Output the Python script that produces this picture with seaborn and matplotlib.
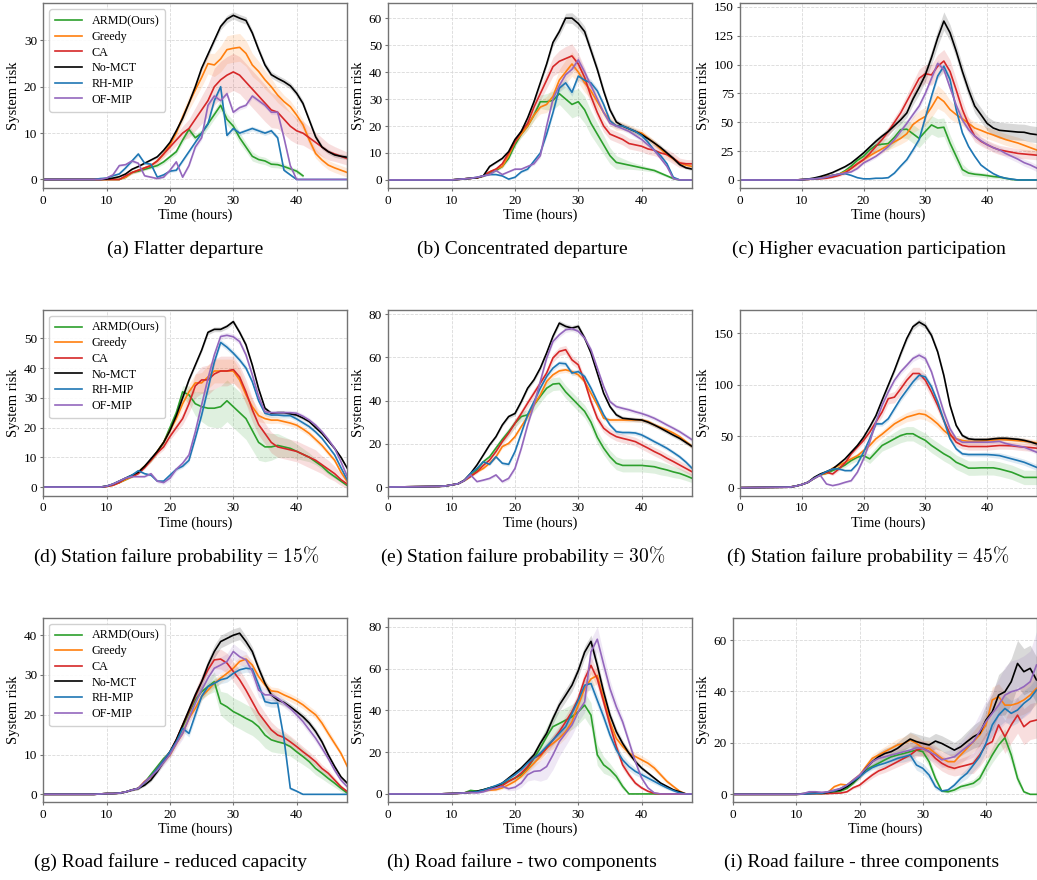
import numpy as np
import pandas as pd
import matplotlib
matplotlib.use("Agg")
import matplotlib.pyplot as plt
from matplotlib.ticker import MultipleLocator
import seaborn as sns

nan = float("nan")

# ---------------- data ----------------
HOURS = [0, 8, 9, 10, 11, 12, 13, 14, 15, 16, 17, 18, 19, 20, 21, 22, 23, 24, 25, 26, 27, 28, 29,
         30, 31, 32, 33, 34, 35, 36, 37, 38, 39, 40, 41, 42, 43, 44, 45, 46, 47, 48]
METHODS = ["ARMD(Ours)", "Greedy", "CA", "No-MCT", "RH-MIP", "OF-MIP"]

# (a) Flatter departure
A_ARMD = [0,0,0, 0,0,0,0.5,1.5,1.8,2.2,2.6,3,3.8, 4.9,6,8.5,10.8,9,10,12,14,16,13, 11.5,9,7,5,4.3,4,3.3,3.2,2.8,2.3, 1.8,0.8,nan,nan,nan,nan,nan,nan,nan]
A_GREEDY = [0,0,0, 0,0,0,0.5,1.5,2,2.5,3,4,5.5, 7.5,10,13.5,16.5,19.3,22,25,24.7,26,28, 28.3,28.5,27.2,24.7,23.3,21.5,20,18.2,16.8,15.7, 13.9,11.8,8.5,5.6,4.2,3.1,2.5,2,1.5]
A_CA = [0,0,0, 0,0,0,0.8,1.5,2,2.5,3,4,5.5, 7,8.5,10,11,13,15,17,20,21.5,22.5, 23.2,22.5,21,19.5,18,16.5,15,14.5,13,11.5, 10.5,10,9,8,7,6,5.5,5,4.5]
A_NOMCT = [0,0,0, 0.1,0.3,0.6,1.2,2.2,2.8,3.5,4.2,4.9,6.3, 8,10.5,13.2,16.5,20,24,27,30,33,34.6, 35.4,34.8,34.3,31.6,28,24.7,22.6,21.8,21.1,20.2, 18.6,16.4,12.8,9.2,7,6,5.3,5,4.8]
A_RH = [0,0,0.2, 0.3,0.8,1.2,2.5,4,5.5,3.5,3.3,0.5,1, 1.8,2,4,6,8,10,12,17,20,9.5, 11,10,10.5,11,10.5,10,10.5,9,2,1, 0,0,0,0,0,0,0,0,0]
A_OF = [0,0,0, 0.3,1,3,3.2,4,3.5,0.8,0.5,0.2,0.5, 2,3.8,0.5,3,7,9,16,18,17,18.5, 14.5,15.5,16,18,17,16,14.5,14.5,9,3, 0,0,0,0,0,0,0,0,0]
A_ARMD_SD = [0,0,0, 0,0,0,0.2,0.3,0.3,0.3,0.3,0.4,0.5, 0.5,0.6,0.7,0.8,0.8,0.8,1,1,1.2,1.2, 1.2,1.2,1,1,0.8,0.8,0.7,0.7,0.6,0.5, 0.5,0.4,0,0,0,0,0,0,0]
A_GREEDY_SD = [0,0,0, 0,0,0,0.2,0.3,0.3,0.4,0.4,0.5,0.6, 0.8,1,1.2,1.5,1.8,2,2.2,2.5,2.8,3, 3,3,2.8,2.5,2.2,2,1.8,1.6,1.4,1.3, 1.2,1.1,1,1,1,1,1,1,1]
A_CA_SD = [0,0,0, 0,0,0,0.2,0.3,0.4,0.4,0.5,0.6,0.8, 1,1.2,1.5,2,2.5,3,3.5,4,4,4, 4,4,4,4,4,4,3.8,3.5,3.2,3, 2.8,2.6,2.4,2.2,2,1.8,1.6,1.5,1.4]
A_NOMCT_SD = [0,0,0, 0,0,0.1,0.1,0.2,0.2,0.2,0.2,0.3,0.3, 0.3,0.3,0.4,0.4,0.5,0.5,0.6,0.6,0.7,0.8, 0.8,0.8,0.8,0.7,0.7,0.7,0.7,0.7,0.7,0.7, 0.7,0.7,0.6,0.6,0.5,0.5,0.5,0.5,0.5]
A_RH_SD = [0,0,0, 0.1,0.2,0.2,0.3,0.4,0.4,0.3,0.3,0.2,0.2, 0.3,0.3,0.4,0.4,0.5,0.5,0.5,0.6,0.6,0.5, 0.5,0.5,0.5,0.5,0.5,0.5,0.5,0.5,0.3,0.2, 0,0,0,0,0,0,0,0,0]
A_OF_SD = [0,0,0, 0.1,0.2,0.3,0.3,0.4,0.3,0.2,0.2,0.1,0.2, 0.3,0.4,0.2,0.4,0.5,0.5,0.6,0.6,0.6,0.6, 0.5,0.5,0.5,0.5,0.5,0.5,0.5,0.5,0.4,0.2, 0,0,0,0,0,0,0,0,0]

# (b) Concentrated departure
B_ARMD = [0,0,0, 0,0.2,0.4,0.6,0.8,1.5,2.5,3.5,5,8, 13,17,20,24,29,29,29.5,32,30,28, 29,26,21,17,13,9,6.5,6,5.5,5, 4.5,4,3.5,2.5,1.5,0.5,0,0,0]
B_GREEDY = [0,0,0, 0,0.2,0.4,0.6,0.8,1.5,3,4,5,9, 14,17,20,24,27,28,31,37,40,43, 40,36,33,29,25,22,20,20,19,18, 17.4,15.5,13.7,11.5,9.4,7.8,6.3,5.5,5]
B_CA = [0,0,0, 0,0.2,0.4,0.6,0.8,1.5,3,4,6,10, 14,18,21,27,32,37,42,44,45,46, 43,38,31,25,20,17,16,15,13.5,13, 12.5,11.5,11,10,9.4,8,6.3,6,6]
B_NOMCT = [0,0,0, 0,0.2,0.4,0.6,0.8,1.5,5,6.5,8,10.5, 15,18,23,29,36,43,51,55,60,60, 58,55,48,41,33,26,21.5,20,19,18, 16.8,15.3,13.7,12,10,8,5.7,4.5,4]
B_RH = [0,0,0, 0,0.2,0.4,0.6,1,1.5,2,2,1.5,0.3, 1,3,4,7,10,17,25,34,36,32.5, 38.5,37,36,33,28,22,20,20,19,18, 16.5,14,11,9,6,1,0,0,0]
B_OF = [0,0,0, 0,0.2,0.4,0.6,1,1.5,2,3.5,2,3, 4,4,5,6,9,20,30,35,39,41, 44.5,40,35,30,25,21,20,19,18,16.5, 15,13,11,8,5,0.5,0,0,0]
B_ARMD_SD = [0,0,0, 0,0,0,0.1,0.2,0.3,0.4,0.5,0.6,0.8, 1,1.2,1.5,2,2.5,3,3.5,4,4.5,5, 5,5,4.5,4,3.5,3,2.5,2,1.5,1.2, 1,0.8,0.7,0.6,0.5,0.4,0,0,0]
B_GREEDY_SD = [0,0,0, 0,0,0,0.1,0.2,0.3,0.4,0.5,0.6,0.8, 1,1.2,1.5,2,2.5,3,3.5,4,4.5,4.5, 4,3.5,3,2.5,2,1.8,1.6,1.5,1.5,1.4, 1.3,1.2,1.1,1,1,1,1,1,1]
B_CA_SD = [0,0,0, 0,0,0,0.1,0.2,0.3,0.4,0.5,0.6,0.8, 1,1.2,1.5,2,2.5,3,3.5,4,4.5,4.5, 4,3.5,3,2.5,2.2,2,2,2,2,2, 2,2,2,2,2,2,1.8,1.6,1.5]
B_NOMCT_SD = [0,0,0, 0,0,0,0.1,0.2,0.3,0.4,0.4,0.5,0.5, 0.6,0.7,0.8,0.9,1,1.2,1.4,1.6,1.8,2, 2,2,1.8,1.6,1.4,1.2,1,1,1,1, 1,1,1,1,0.8,0.8,0.6,0.5,0.5]
B_RH_SD = [0,0,0, 0,0,0,0.1,0.2,0.2,0.3,0.3,0.3,0.2, 0.3,0.4,0.5,0.6,0.8,1,1.2,1.4,1.5,1.5, 1.5,1.4,1.3,1.2,1,1,0.8,0.8,0.8,0.8, 0.8,0.7,0.6,0.5,0.4,0.2,0,0,0]
B_OF_SD = [0,0,0, 0,0,0,0.1,0.2,0.2,0.3,0.3,0.3,0.2, 0.3,0.4,0.5,0.6,0.8,1,1.2,1.4,1.5,1.5, 1.5,1.4,1.3,1.2,1,1,0.8,0.8,0.8,0.8, 0.8,0.7,0.6,0.5,0.4,0.2,0,0,0]

# (c) Higher evacuation participation
C_ARMD = [0,0,0, 0.3,0.6,1,1.5,3,4,5,8,12,17, 20.5,26,30,31,31.5,37,43.6,44,40,36, 42,47.7,45,45.7,32,20.5,9,6,5,4.5, 3.8,3,2.5,1.5,0.5,0,0,0,0]
C_GREEDY = [0,0,0, 0.3,0.6,1,2,3,4,5,7,10,14, 17.6,21,24,27,30,33,36,40,48,52, 55,63,72,68,61,56.6,53,49,45,43, 40.8,39,37,35,33.5,32,30,28,26]
C_CA = [0,0,0, 0.3,0.5,0.8,1,1.5,2.5,4,6,10,14, 17.6,23,29,35,42,50,58,68,78,88, 92,91,98.5,103,94,78,61,48,38,33.5, 30.6,28,26,25,24,23,22.5,22,21.5]
C_NOMCT = [0,0,0, 0.3,0.8,1.7,3,4.6,6.5,9,11.5,14.7,19, 23.4,28.5,33.5,38,42,47,52,58,70,80, 91,106,123,137.6,127.5,111.6,94,78,64,56.6, 49,45,43,42.5,42,41.5,41.3,40,39.3]
C_RH = [0,0,0, 0.3,0.6,1,1.5,2.5,4,5,5.5,4,2, 1,1,1.5,1.5,2,6,12,17.6,26,35, 54,72.5,90,98.5,87,61,40.8,29,20.5,13, 9,5.5,3,1.5,0.8,0,0,0,0]
C_OF = [0,0,0, 0.3,0.6,1,1.5,2.5,4,5,6,7,10, 14.7,17.5,20.5,24.5,29,35,42,49,56.6,64, 75,88,101,95.6,80,65,52,43.6,38,34, 30.6,28,26,23,20.5,18,15,13,10.4]
C_ARMD_SD = [0,0,0, 0,0,0,0.2,0.5,0.8,1,1.5,2,2.5, 3,4,5,5,5,6,7,8,8,8, 8,8,8,8,7,6,5,3,2,2, 2,1.5,1.5,1,0.5,0,0,0,0]
C_GREEDY_SD = [0,0,0, 0,0,0,0.2,0.5,0.8,1,1.5,2,2.5, 3,3,3,3.5,4,4.5,5,6,7,8, 8,9,10,9,8,7,6,5,5,5, 5,5,5,5,5,5,5,5,5]
C_CA_SD = [0,0,0, 0,0,0,0.2,0.5,0.8,1,1.5,2,2.5, 3,3,3,3.5,4,4.5,5,6,7,8, 8,9,10,10,10,9,8,6,5,4, 4,4,4,4,4,4,4,4,4]
C_NOMCT_SD = [0,0,0, 0,0,0,0.2,0.4,0.6,0.8,1,1.2,1.5, 2,2,2.5,2.5,3,3,3.5,4,5,6, 6,6,7,8,7,6,6,6,6,6, 6,6.5,7,7,7,7,7,7,7]
C_RH_SD = [0,0,0, 0,0,0,0.2,0.3,0.4,0.5,0.5,0.4,0.3, 0.2,0.2,0.3,0.3,0.4,0.8,1.2,1.5,2,2.5, 3,3,3,3,3,2.5,2,1.5,1.2,1, 0.8,0.6,0.4,0.2,0.1,0,0,0,0]
C_OF_SD = [0,0,0, 0,0,0,0.2,0.3,0.4,0.5,0.6,0.7,1, 1.2,1.5,1.5,1.8,2,2.5,3,3,3,3, 3,3,3,3,3,3,3,3,3,3, 3,3,3,3,3,3,3,3,3]

# (d) Station failure probability = 15%
D_ARMD = [0,0,0, 0.3,0.8,1.5,2.5,3.5,5,7,9,12,15, 20,25,32,31,28,27,26.5,26.5,27,29, 27,25,23,19,15,13.5,13.5,14,13.5,13, 12,11,10,8.5,7,5,3.5,2,0.5]
D_GREEDY = [0,0,0, 0.2,0.6,1.5,2.5,3.5,5,7,9,12,15, 19,23,28,32,35,35,37,39,39,39, 39,36,31,27,24,23,22.5,22.5,22,21.5, 20.8,19.5,18,16,14,11.5,9,5,1.8]
D_CA = [0,0,0, 0.2,0.6,1.5,3,3.5,4.5,6.5,9,11.5,13.5, 17,20,23,28,34,36,36,38,39,39, 39.5,37,32,26,21,18,15,13.5,13,12.5, 12,11,10,9,7.5,6,4.5,2.5,1]
D_NOMCT = [0,0,0, 0.3,1,2,3,4,5,7,9.5,12,15, 19,24,30,36,41,46,52,53,53,54, 55.6,52,47.8,41,33,26.5,24.8,25,25,24.6, 24.2,23.2,22,20,18,15.5,13,10,6.3]
D_RH = [0,0,0, 0.3,1,2,3,4,5.5,4.5,4,2,2, 4,6,7,9,16.4,24.2,33,42,48.6,47, 45,42.7,40,35.4,29,24.8,24.2,24.2,24,24, 22.9,21.6,20.3,18.5,16.4,13.6,10.8,6.5,2.4]
D_OF = [0,0,0, 0.3,1,2,3,3.5,3.5,3.5,4.5,2,1.5, 3,6,8,10.8,18.6,27.6,36.5,44.4,50.6,51, 50.5,48.9,44.4,37.7,30.4,25.3,25,25,25,25, 24.8,23.8,22.5,20.8,18.6,16,13,8.5,3.5]
D_ARMD_SD = [0,0,0, 0,0,0.1,0.2,0.3,0.4,0.5,0.6,0.8,1, 1.2,1.5,2,3,4,5,6,6.5,7,7, 7,7,7,6.5,6,5,4.5,4,3.5,3, 2.5,2,1.5,1,1,0.8,0.6,0.4,0.2]
D_GREEDY_SD = [0,0,0, 0,0,0.1,0.2,0.3,0.4,0.5,0.6,0.8,1, 1.2,1.5,2,2.5,3,3.5,4,4,4,4, 4,3.5,3,2.5,2,1.5,1.2,1,1,1, 1,1,1,1,1,1,0.8,0.6,0.4]
D_CA_SD = [0,0,0, 0,0,0.1,0.2,0.3,0.4,0.5,0.6,0.8,1, 1.2,1.5,2,3,4,4.5,5,5,5,5, 4.5,4,4,4,3.5,3.5,3.5,3.5,3.5,3.5, 3.5,3.5,3.5,3.5,3,3,2.5,2,1.5]
D_NOMCT_SD = [0,0,0, 0,0,0.1,0.1,0.2,0.2,0.3,0.3,0.4,0.4, 0.5,0.5,0.6,0.6,0.7,0.7,0.8,0.8,0.8,0.8, 0.8,0.8,0.8,0.7,0.7,0.6,0.6,0.6,0.6,0.6, 0.6,0.6,0.6,0.6,0.5,0.5,0.5,0.4,0.4]
D_RH_SD = [0,0,0, 0,0,0.1,0.2,0.3,0.3,0.3,0.3,0.3,0.3, 0.4,0.5,0.6,0.7,0.8,0.9,1,1,1,1, 1,1,1,0.9,0.8,0.8,0.8,0.8,0.8,0.8, 0.8,0.8,0.8,0.7,0.7,0.6,0.6,0.5,0.4]
D_OF_SD = [0,0,0, 0,0,0.1,0.2,0.3,0.3,0.3,0.5,0.6,0.6, 0.8,0.8,0.8,0.8,0.9,1,1,1,1,1, 1,1,1,0.9,0.8,0.8,0.8,0.8,0.8,0.8, 0.8,0.8,0.8,0.7,0.7,0.6,0.6,0.5,0.4]

# (e) Station failure probability = 30%
E_ARMD = [0,0.3,0.5, 1,1.5,3,5,8,11.7,14,18,22,25.6, 29.5,32.6,33.4,38,41.9,45.7,47.6,47.9,44,41, 38,35,30,23,18,14,11,10,10,10, 10,9.7,9.4,8.6,7.9,7,6.3,5.2,4]
E_GREEDY = [0,0.3,0.5, 1,1.5,3,5,7,8.6,11,14,18.7,20.2, 23.3,28,32.6,38,42.6,48.8,51.9,53.7,54.2,53.4, 51.9,48.8,43.4,38,31.8,31,31,31,31,31, 31,30.3,28.7,27.6,26.4,25,23.3,21,18.7]
E_CA = [0,0.3,0.5, 1,1.5,3,5,7,10,12.5,16.4,21,24.9, 29.5,34,38.8,43.4,48,52.7,59.7,62.7,63.5,58.8, 56.5,48.8,39.5,31.8,27.2,24.9,23.3,22.5,21.8,21, 19.5,18,16.4,15,13.3,11.8,10.2,8.6,7]
E_NOMCT = [0,0.3,0.5, 1,1.5,3.2,6.3,10.2,14.8,19.5,23.3,28.7,32.6, 34,39.5,45.7,49.6,55,62,69.7,75.8,74.3,73.5, 74.3,68.9,62,52.7,43.4,37.2,33.4,31.8,31.5,31.2, 31,30,28.7,27.2,25.6,24,22.5,20.6,18.7]
E_RH = [0,0.3,0.5, 1,1.5,3,6.3,8.6,11.7,10.5,14,11,10.5, 16.4,24.9,33.4,39.5,45.7,51.1,55,57.3,57,52.7, 53.4,51.1,45.7,39.5,33.4,28.7,25.6,25.2,25.2,25, 24.1,22.6,21,19.5,17.9,16,14,11.5,8.6]
E_OF = [0,0.3,0.5, 1,1.5,3,5.6,2.5,3.2,4,5.6,2.5,4, 8.6,17.9,28.7,38,48.8,59.6,67.3,70.4,72.7,73.2, 72,68.9,63.5,55,46.5,39.5,37.2,36.4,35.7,34.8, 34,33,31.8,30.3,28.7,27.2,25.6,23.7,21.8]
E_ARMD_SD = [0,0,0, 0,0.2,0.3,0.5,0.8,1,1.2,1.4,1.6,1.8, 2,2.2,2.5,2.8,3,3,3,3,3,3, 3,3,3,3,3,3,3,3,3,3, 3,3,3,3,2.8,2.6,2.4,2.2,2]
E_CA_SD = [0,0,0, 0,0.2,0.3,0.5,0.8,1,1.2,1.4,1.6,1.8, 2,2,2,2,2,2,2,2,2,2, 2,2,2,2,2,2,2,2,2,2, 2,2,2,2,2,2,2,2,2]
E_OTHER_SD = [0,0,0, 0,0.1,0.2,0.3,0.4,0.5,0.6,0.7,0.8,0.9, 1,1,1,1,1.2,1.2,1.2,1.2,1.2,1.2, 1.2,1.2,1.2,1,1,1,1,1,1,1, 1,1,1,1,1,1,1,1,1]

# (f) Station failure probability = 45%
F_ARMD = [0,0.5,1.5, 3,5.2,9,12.5,14,16.6,19,22,26.4,29.6, 31.2,28,34.5,41,44.2,47.5,50.7,52.4,52.4,49, 46,41,37,32.9,29.6,24.7,22,19,19,19.3, 19.3,19.3,18.2,16.6,15,12.5,10,10,10]
F_GREEDY = [0,0.5,1.5, 3,5.2,9,12.5,14,19,21.5,24.7,28,31, 36,41,47.5,52,57,62,65.4,68.6,70.3,72, 71,67,62,55.6,50.7,47.5,45.9,45,45,45.3, 45.9,46.3,46.8,46.5,46.2,45.7,45.2,44.4,43.6]
F_CA = [0,0.5,1.5, 3,5.2,9,12.5,15,13.3,18.2,24,32.9,39.4, 45.9,54,63.8,73.5,86.5,88,96,104.4,111,111, 104.4,93,80,65.4,52.4,44.2,41,40,40,40, 40,40.5,41,40.9,40.7,40,39.4,39,38.4]
F_NOMCT = [0,0.5,1.5, 3,5.2,10,13.3,15.6,18.2,23,28,34.5,41, 49,59,70,85,99.5,114,130,145,156.5,161, 157.5,148,132,109,80,60.5,50.7,47.5,46.8,46.8, 46.8,47.5,48,48,47.5,47,46,44.5,42.6]
F_RH = [0,0.5,1.5, 3,5.2,9,12.5,15.6,18.2,18.2,16.6,16.6,23, 34.5,47.5,62,62,67,76.8,86.5,94.7,102.8,109.3, 107.7,98,83.3,65.4,47.5,37.7,32.9,32.2,32.2,32.2, 32.2,31.8,31.2,29.6,28,26.4,24.7,22.3,19.8]
F_OF = [0,0.5,1.5, 3,5.2,9,12,3.6,2,3.3,5.2,6.8,15, 28,44.2,63.8,80,93,104.4,112.6,119,125.6,128.8, 125.6,112.6,93,73.5,57.3,47.5,44.2,44.2,44.2,44.2, 44.2,44.5,45,43,41.6,40.5,39.4,37,34.5]
F_ARMD_SD = [0,0,0, 0,0,0,0.5,1,1.5,2,2.5,3,3.5, 4,4.5,5,5.5,6,6.5,7,7,7,7, 7,7,7,7,7,7,7,7,7,7, 7,7,7,7,7,7,7,7,7]
F_GREEDY_SD = [0,0,0, 0,0,0,0.5,1,1.5,2,2,2.5,2.5, 3,3,3.5,3.5,4,4,4.5,4.5,5,5, 5,4.5,4,4,3.5,3,3,3,3,3, 3,3,3,3,3,3,3,3,3]
F_CA_SD = [0,0,0, 0,0,0,0.5,1,1.5,2,2,2.5,2.5, 3,3.5,4,4.5,5,5.5,6,6,6,6, 6,6,5.5,5,4.5,4,3.5,3.5,3.5,3.5, 3.5,3.5,3.5,3.5,3.5,3.5,3.5,3.5,3.5]
F_NOMCT_SD = [0,0,0, 0,0,0,0.3,0.5,0.6,0.8,1,1.2,1.4, 1.6,1.8,2,2.2,2.4,2.6,2.8,3,3,3, 3,3,3,3,2.5,2,2,2,2,2, 2,2,2,2,2,2,2,2,2]
F_RH_SD = [0,0,0, 0,0,0,0.3,0.5,0.6,0.8,1,1.2,1.4, 1.6,1.8,2,2.2,2.4,2.6,2.8,3,3,3, 3,3,3,3,2.5,2,2,2,2,2.2, 2.4,2.6,2.8,3,3,3,3,3,3]
F_OF_SD = [0,0,0, 0,0,0,0.3,0.5,0.6,0.8,1,1.2,1.4, 1.6,1.8,2,2.2,2.4,2.6,2.8,3,3,3, 3,3,3,3,2.5,2,2,2,2,2, 2,2,2,2,2,2,2,2,2]

# (g) Road failure - reduced capacity
G_ARMD = [0,0,0.1, 0.2,0.2,0.3,0.6,1.1,1.5,3,5,7,9, 10.5,13.5,17,20.5,23.7,25.8,27.1,28.3,22.9,22, 20.8,20,19.1,18.3,17,14.9,13.7,13.2,12.8,12, 10.7,9.5,8.2,6.5,5.3,4,2.8,1.5,0.3]
G_GREEDY = [0,0,0.1, 0.2,0.2,0.3,0.6,1.1,1.5,3.2,4.4,6.1,8.2, 9.9,12.8,15.3,19.1,21.6,24.6,26.2,27.9,29.2,30.4, 31.7,33.4,34,32.5,29.6,27.5,26,25.8,25,24.3, 23.5,22.5,21.2,20,17.9,15.3,12.8,10.3,7]
G_CA = [0,0,0.1, 0.2,0.2,0.3,0.6,1.1,1.5,3.2,4.4,6.5,8.6, 10.7,13.7,17.4,20.8,24.6,28.3,31.3,33.8,34,33, 30.9,28.8,26.2,23.3,20.4,18.3,16.2,14.9,14.3,13.2, 12,10.7,9.5,8.2,6.5,5.3,3.6,1.9,0.7]
G_NOMCT = [0,0,0.1, 0.2,0.2,0.3,0.6,1.1,1.5,2.3,3.6,5.7,8.2, 10.7,13.7,17.4,21.2,25,28.3,32.5,35.9,38.4,39.2, 40,40.5,38.4,35.9,31.7,27.9,25,23.7,23.1,22, 20.8,19.5,17.9,15.8,13.2,9.9,7,4.4,2.8]
G_RH = [0,0,0.1, 0.2,0.2,0.3,0.6,1.1,1.5,3,4.5,6.5,8.6, 10.7,13.2,16.6,15.3,20,24.6,27.1,27.9,28.8,29.2, 30.4,31.3,31.7,31.5,27.5,23.3,22.9,22.9,14,1.5, 0.8,0,0,0,0,0,0,0,0]
G_OF = [0,0,0.1, 0.2,0.2,0.3,0.6,1.1,1.5,3,4.5,6,8, 10,12.8,15.3,19.1,22.9,26.2,29.2,31.7,32.5,33.4, 35.9,34.6,33.8,30.9,26.2,25,25,24.2,22.9,21.6, 20,18.3,16.2,14.1,11.6,9,6.1,3.6,1.9]
G_ARMD_SD = [0,0,0, 0,0,0,0.1,0.2,0.3,0.4,0.5,0.6,0.7, 0.8,1,1.2,1.4,1.6,1.8,2,2.5,3,3.5, 3.5,3.5,3.5,3.5,3.5,3.2,3,2.8,2.6,2.4, 2.2,2,1.8,1.6,1.4,1.2,1,0.8,0.5]
G_GREEDY_SD = [0,0,0, 0,0,0,0.1,0.2,0.3,0.3,0.4,0.4,0.5, 0.6,0.7,0.8,0.9,1,1,1.1,1.2,1.2,1.2, 1.2,1.2,1.2,1.2,1,1,1,1,1,1, 1,1,1,1,1,1,0.8,0.6,0.5]
G_CA_SD = [0,0,0, 0,0,0,0.1,0.2,0.3,0.3,0.4,0.5,0.6, 0.8,1,1.2,1.4,1.6,1.8,2,2.2,2.5,2.5, 2.5,2.5,2.5,2.5,2.5,2.2,2,1.8,1.6,1.5, 1.4,1.3,1.2,1.1,1,0.9,0.7,0.5,0.3]
G_NOMCT_SD = [0,0,0, 0,0,0,0.1,0.2,0.3,0.3,0.4,0.5,0.6, 0.7,0.8,0.9,1,1.1,1.2,1.4,1.6,1.6,1.6, 1.6,1.6,1.4,1.2,1,1,0.9,0.8,0.8,0.8, 0.8,0.8,0.8,0.8,0.7,0.6,0.5,0.4,0.3]
G_RH_SD = [0,0,0, 0,0,0,0.1,0.2,0.3,0.3,0.4,0.4,0.5, 0.6,0.7,0.8,0.9,1,1,1,1,1,1, 1,1,1,1,1,1,1,1,0.8,0.4, 0.2,0,0,0,0,0,0,0,0]
G_OF_SD = [0,0,0, 0,0,0,0.1,0.2,0.3,0.4,0.5,0.6,0.8, 1,1.2,1.4,1.6,1.8,2,2,2,2,2, 2,2,2,2,1.8,1.6,1.4,1.2,1,1, 1,1,1,1,0.9,0.8,0.7,0.6,0.5]

# (h) Road failure - two components
H_ARMD = [0,0,0.1, 0.2,0.3,0.5,1.7,1.3,2,2.9,3.8,4.8,6.2, 7.6,9.2,12.4,17.1,21.9,27.4,32.2,33.7,35.3,36.9, 39.3,42.5,37.7,18.7,13.9,11.6,8.4,3.6,0,0, 0,0,0,0,0,0,0,0,0]
H_GREEDY = [0,0,0.1, 0.2,0.3,0.5,0.8,1,1.5,1.8,2,2.9,4.4, 6,8.4,11.6,14.7,17.9,21.9,24.2,26.6,29.8,34.5, 42.5,50.4,55,56.7,45.6,34.5,26.6,22.7,19.5,17.9, 16.3,14.7,12.4,9.2,6,3.6,1.3,0,0]
H_CA = [0,0,0.1, 0.2,0.3,0.5,0.8,1,1.5,2.5,3.3,4,6, 7.6,10,13.1,17.1,18.7,21.9,25.8,29.8,34.5,39.3, 45.6,55,61.5,55,44,33,22.7,13.9,9.2,5.2, 2.9,1.3,0.3,0,0,0,0,0,0]
H_NOMCT = [0,0,0.1, 0.2,0.3,0.5,0.8,1.3,2,2.9,3.6,5.2,7.6, 10,12.4,15.5,18.7,24.2,29,36.1,42.5,47.2,52, 59,67.8,73,61.5,48.8,37.7,29.8,24.2,19.5,15.5, 12.4,10,7.6,5.2,3.6,2,1,0,0]
H_RH = [0,0,0.1, 0.2,0.3,0.5,0.8,1,1.8,2.9,4,5.2,7.2, 9.2,11.6,14.7,17.1,19.5,22.7,25.8,29,32.2,38.5, 44.8,52,52.8,44.8,36.9,28.2,21.1,16.3,13.1,10.8, 9.2,7.6,6,4.4,2.9,1.6,0.5,0,0]
H_OF = [0,0,0.1, 0.2,0.3,0.5,0.6,0.5,1,2,2.9,3.6,2.5, 3.2,5.2,9.2,10.8,11.1,13.1,18.7,25,29,33, 39.3,44,68,74,62,50.4,41.7,34.5,25,15.5, 7.6,2.9,0.5,0,0,0,0,0,0]
H_ARMD_SD = [0,0,0, 0,0,0,0.2,0.3,0.4,0.5,0.6,0.7,0.8, 1,1.5,2,3,4,5,6,6,6,6, 6,6,6,5,4,3,2,1.5,0,0, 0,0,0,0,0,0,0,0,0]
H_GREEDY_SD = [0,0,0, 0,0,0,0.2,0.3,0.4,0.5,0.6,0.7,0.8, 1,1.2,1.5,1.8,2,2.2,2.5,2.8,3,3, 3,3.5,4,4,3.5,3,2.5,2,2,2, 2,1.8,1.5,1.2,1,0.8,0.5,0,0]
H_CA_SD = [0,0,0, 0,0,0,0.2,0.3,0.4,0.5,0.6,0.7,0.8, 1,1.2,1.5,1.8,2,2.2,2.5,2.8,3,3, 3,3.5,4,4,3.5,3,2.5,2,1.5,1, 0.8,0.5,0.2,0,0,0,0,0,0]
H_NOMCT_SD = [0,0,0, 0,0,0,0.2,0.3,0.4,0.5,0.6,0.7,0.8, 1,1.2,1.5,1.8,2,2.2,2.5,2.8,3,3, 3,3,3,3,2.5,2,1.8,1.6,1.4,1.2, 1,0.8,0.6,0.5,0.4,0.3,0.2,0,0]
H_RH_SD = [0,0,0, 0,0,0,0.2,0.3,0.4,0.5,0.6,0.7,0.8, 1,1.2,1.4,1.6,1.8,2,2.2,2.4,2.6,2.8, 3,3,3,3,2.8,2.6,2.4,2.2,2,1.8, 1.6,1.4,1.2,1,0.8,0.6,0.3,0,0]
H_OF_SD = [0,0,0, 0,0,0,0.2,0.3,0.4,0.5,0.6,0.8,1, 1.5,2,3,4,5,6,7,7,6,5, 5,5,6,6,5,4,3,2.5,2,1.5, 1,0.5,0.2,0,0,0,0,0,0]

# (i) Road failure - three components
I_ARMD = [0,0,0, 0,0.1,0.2,0.3,0.3,0.4,0.8,1.3,2.3,4.3, 6.9,9.5,10.8,12.1,13.4,14.6,15.3,15.9,16.6,17.2, 16.6,12.7,6.2,1.3,1,1.7,3,3.6,4.3,6.2, 10.8,15.3,19.2,22,15.3,6.2,1,0,0]
I_GREEDY = [0,0,0, 0,0.1,0.2,0.3,0.3,0.8,3,3.9,3.6,5.6, 7.5,10.8,14,15.3,16.6,17.9,19.2,19.8,21.1,19.8, 17.9,17.9,15.9,14,12.7,12.7,15.3,17.9,20.5,23.1, 27,36.7,38,34.7,34.7,35.4,36.7,38.6,41.2]
I_CA = [0,0,0, 0,0.1,0.2,0.3,0.3,0.3,0.4,0.5,1,2.6, 3.6,5.6,7.5,9.1,10.1,11.4,12.7,14,15.3,17.2, 17.9,16.6,14,12.1,10.8,10.1,10.8,11.4,12.1,15.3, 19.2,20.5,27,22.4,27,30.8,26.3,28.3,28.9]
I_NOMCT = [0,0,0, 0,0.3,0.4,0.5,0.4,0.8,1.3,1.7,3,4.9, 6.9,10.1,12.7,14.6,15.9,16.6,17.9,19.8,21.5,20.5, 19.8,19.2,20.7,19.8,18.5,17.2,18.5,20.5,22.4,23.7, 28.9,32.1,38.6,39.9,43.8,50.9,47.7,49,44.5]
I_RH = [0,0,0, 0,0.1,0.2,0.3,0.4,1,1.3,2.3,3.6,5.2, 6.9,8.8,10.4,11.4,12.1,13,14,14.6,15.3,11.4, 10.1,7.5,3,1.3,1.7,3.6,6.2,8.2,11.4,14.6, 19.8,27,30.8,33.4,31.5,32.8,35.4,37.3,40.6]
I_OF = [0,0,0, 0,0.2,1,1,0.8,1,1.7,2.3,3.6,5.6, 7.5,10.1,12.7,14,14.6,15.3,15.9,16.6,17.2,18.1, 17.9,16.6,15.3,13.4,14,14.6,16.6,18.5,20.5,24.4, 28.3,31.5,34.7,38.6,39.9,40.6,41.9,43.8,50.3]
I_ARMD_SD = [0,0,0, 0,0,0,0.1,0.1,0.2,0.2,0.3,0.4,0.5, 0.6,0.8,1,1.2,1.4,1.6,1.8,2,2,2, 2,2,1.5,0.5,0.5,0.8,1,1.2,1.5,2, 2.5,3,3.5,3.5,3,2,0.5,0,0]
I_GREEDY_SD = [0,0,0, 0,0,0,0.1,0.1,0.2,0.4,0.5,0.6,0.8, 1,1.2,1.5,1.8,2,2.2,2.4,2.6,2.8,3, 3,3,3,3,3,3.2,3.5,3.8,4,4.5, 5,5,5,5,5,5,5.5,6,6]
I_CA_SD = [0,0,0, 0,0,0,0.1,0.1,0.1,0.1,0.2,0.3,0.5, 0.7,1,1.2,1.4,1.6,1.8,2,2.2,2.4,2.6, 2.8,3,3,3,3,3,3.2,3.5,4,4.5, 5,5.5,6,6.5,7,7,7,7,7]
I_NOMCT_SD = [0,0,0, 0,0,0.1,0.1,0.1,0.2,0.3,0.4,0.5,0.8, 1,1.2,1.5,1.8,2,2.2,2.4,2.6,2.8,3, 3,3,3,3,3,3,3.5,4,4.5,5, 6,7,8,9,9,9,9,9,9]
I_RH_SD = [0,0,0, 0,0,0,0.1,0.1,0.2,0.2,0.3,0.4,0.5, 0.6,0.8,1,1.2,1.4,1.6,1.8,2,2,2, 2,1.8,1.2,0.5,0.8,1.2,1.6,2,2.5,3, 3.5,4,4.5,5,5,5,5,5,5]
I_OF_SD = [0,0,0, 0,0,0.1,0.1,0.1,0.2,0.3,0.4,0.5,0.8, 1,1.2,1.5,1.8,2,2.2,2.4,2.6,2.8,3, 3,3,3,3,3,3.5,4,5,6,7, 8,9,10,11,12,12,12,12,13]

CAPTIONS = [
    "(a) Flatter departure",
    "(b) Concentrated departure",
    "(c) Higher evacuation participation",
    "(d) Station failure probability = $15\\%$",
    "(e) Station failure probability = $30\\%$",
    "(f) Station failure probability = $45\\%$",
    "(g) Road failure - reduced capacity",
    "(h) Road failure - two components",
    "(i) Road failure - three components",
]

PANEL_MEANS = [
    [A_ARMD, A_GREEDY, A_CA, A_NOMCT, A_RH, A_OF],
    [B_ARMD, B_GREEDY, B_CA, B_NOMCT, B_RH, B_OF],
    [C_ARMD, C_GREEDY, C_CA, C_NOMCT, C_RH, C_OF],
    [D_ARMD, D_GREEDY, D_CA, D_NOMCT, D_RH, D_OF],
    [E_ARMD, E_GREEDY, E_CA, E_NOMCT, E_RH, E_OF],
    [F_ARMD, F_GREEDY, F_CA, F_NOMCT, F_RH, F_OF],
    [G_ARMD, G_GREEDY, G_CA, G_NOMCT, G_RH, G_OF],
    [H_ARMD, H_GREEDY, H_CA, H_NOMCT, H_RH, H_OF],
    [I_ARMD, I_GREEDY, I_CA, I_NOMCT, I_RH, I_OF],
]
PANEL_SDS = [
    [A_ARMD_SD, A_GREEDY_SD, A_CA_SD, A_NOMCT_SD, A_RH_SD, A_OF_SD],
    [B_ARMD_SD, B_GREEDY_SD, B_CA_SD, B_NOMCT_SD, B_RH_SD, B_OF_SD],
    [C_ARMD_SD, C_GREEDY_SD, C_CA_SD, C_NOMCT_SD, C_RH_SD, C_OF_SD],
    [D_ARMD_SD, D_GREEDY_SD, D_CA_SD, D_NOMCT_SD, D_RH_SD, D_OF_SD],
    [E_ARMD_SD, E_OTHER_SD, E_CA_SD, E_OTHER_SD, E_OTHER_SD, E_OTHER_SD],
    [F_ARMD_SD, F_GREEDY_SD, F_CA_SD, F_NOMCT_SD, F_RH_SD, F_OF_SD],
    [G_ARMD_SD, G_GREEDY_SD, G_CA_SD, G_NOMCT_SD, G_RH_SD, G_OF_SD],
    [H_ARMD_SD, H_GREEDY_SD, H_CA_SD, H_NOMCT_SD, H_RH_SD, H_OF_SD],
    [I_ARMD_SD, I_GREEDY_SD, I_CA_SD, I_NOMCT_SD, I_RH_SD, I_OF_SD],
]

# ---------------- styling / layout ----------------
COLORS = ["#2ca02c", "#ff7f0e", "#d62728", "#000000", "#1f77b4", "#9467bd"]
PALETTE = dict(zip(METHODS, COLORS))
W, H = 1037, 880
# axes boxes in pixels: left, top, right, bottom
AX_BOX = [
    (43.3, 3.3, 347.3, 188.3), (388.3, 3.3, 692.3, 188.3), (740, 3.3, 1036.5, 188.3),
    (43.3, 309.7, 347.3, 495.7), (388.3, 309.7, 692.3, 495.7), (740, 309.7, 1036.5, 495.7),
    (43.3, 617.7, 347.3, 802.3), (388.3, 617.7, 692.3, 802.3), (733.3, 617.7, 1036.5, 802.3),
]
CAPTION_XY = [(185, 249), (522, 249), (869, 249),
              (176, 556), (523, 556), (868, 556),
              (171, 862), (522, 862), (862, 862)]
YLIMS = [(-1.9, 38), (-3.1, 65.5), (-7.2, 153), (-2.9, 59.6), (-4, 82),
         (-7.8, 173), (-2, 44.4), (-4, 84.3), (-3.1, 68.7)]
YSTEPS = [10, 10, 25, 10, 20, 50, 10, 20, 20]

plt.rcParams["font.family"] = ["Liberation Serif", "DejaVu Serif"]
plt.rcParams["mathtext.fontset"] = "cm"


def long_frame(means, sds):
    rows = []
    for name, m, s in zip(METHODS, means, sds):
        if len(m) != len(HOURS) or len(s) != len(HOURS):
            raise ValueError(f"length mismatch for {name}: {len(m)} {len(s)}")
        for t, y, e in zip(HOURS, m, s):
            if y != y:  # NaN -> series ends
                continue
            for v in (y - e, y, y + e):
                rows.append((t, v, name))
    return pd.DataFrame(rows, columns=["time", "risk", "method"])


fig = plt.figure(figsize=(W / 100, H / 100), dpi=100)
for i in range(9):
    l, t, r, b = AX_BOX[i]
    ax = fig.add_axes([l / W, 1 - b / H, (r - l) / W, (b - t) / H])
    df = long_frame(PANEL_MEANS[i], PANEL_SDS[i])
    sns.lineplot(data=df, x="time", y="risk", hue="method", hue_order=METHODS,
                 palette=PALETTE, estimator="mean", errorbar=("pi", 100),
                 linewidth=1.2, legend=False, ax=ax,
                 err_kws={"alpha": 0.15, "linewidth": 0})
    ax.set_xlim(0, 48)
    ax.set_ylim(*YLIMS[i])
    ax.xaxis.set_major_locator(MultipleLocator(10))
    ax.yaxis.set_major_locator(MultipleLocator(YSTEPS[i]))
    ax.grid(True, ls="--", lw=0.6, color="#d9d9d9")
    ax.set_axisbelow(True)
    for s in ax.spines.values():
        s.set_color("0.45")
        s.set_linewidth(1.0)
    ax.tick_params(axis="both", direction="out", length=2.5, width=0.8,
                   color="0.45", labelsize=9.5, pad=2)
    ax.set_xlabel("Time (hours)", fontsize=10.3, labelpad=1.5)
    ax.set_ylabel("System risk", fontsize=10.5, labelpad=3)
    if i % 3 == 0:
        ax.legend(ax.lines[:6], METHODS, loc="upper left", fontsize=8.7,
                  labelspacing=0.3, handlelength=2.2, borderpad=0.5,
                  framealpha=0.9, edgecolor="0.8")
    cx, cy = CAPTION_XY[i]
    fig.text(cx / W, 1 - cy / H, CAPTIONS[i], ha="center", va="center", fontsize=14)

fig.savefig("out.png", dpi=100)
